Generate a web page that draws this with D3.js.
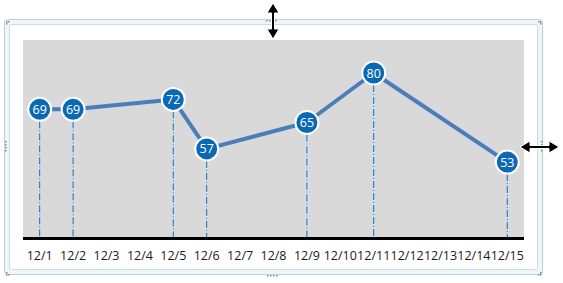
<!DOCTYPE html>
<html><head><meta charset="utf-8">
<script src="https://cdn.jsdelivr.net/npm/d3@7"></script>
<style>html,body{margin:0;padding:0;background:#fff;}svg{display:block;}</style>
</head><body>
<script>
const categories = ["12/1","12/2","12/3","12/4","12/5","12/6","12/7","12/8","12/9","12/10","12/11","12/12","12/13","12/14","12/15"];
const values = [69, 69, null, null, 72, 57, null, null, 65, null, 80, null, null, null, 53];
const yDomain = [30, 90];

const W = 563, H = 283;
const svg = d3.select("body").append("svg").attr("width", W).attr("height", H);

// frame
svg.append("rect").attr("x",4.5).attr("y",19.5).attr("width",538).attr("height",255).attr("rx",3)
  .attr("fill","#eef6f8").attr("stroke","#bccfd6");
svg.append("rect").attr("x",9.5).attr("y",24.5).attr("width",528).attr("height",245).attr("rx",2)
  .attr("fill","#fff").attr("stroke","#c8dce2");

const plot = {x0: 23, x1: 524, y0: 40, y1: 238};
const x = d3.scaleBand().domain(categories).range([plot.x0, plot.x1]);
const y = d3.scaleLinear().domain(yDomain).range([plot.y1, plot.y0]);

svg.append("rect").attr("x",plot.x0).attr("y",plot.y0).attr("width",plot.x1-plot.x0).attr("height",plot.y1-plot.y0)
  .attr("fill","#d9d9d9");

const pts = categories.map((c,i)=>({c, v: values[i]})).filter(d=>d.v!=null);
const cx = d => x(d.c) + x.bandwidth()/2;

// drop lines
const g = svg.append("g");
g.selectAll(".halo").data(pts).join("line")
  .attr("x1",d=>cx(d)).attr("x2",d=>cx(d)).attr("y1",d=>y(d.v)).attr("y2",plot.y1)
  .attr("stroke","#cfdfec").attr("stroke-width",3);
g.selectAll(".drop").data(pts).join("line")
  .attr("x1",d=>cx(d)).attr("x2",d=>cx(d)).attr("y1",d=>y(d.v)).attr("y2",plot.y1)
  .attr("stroke","#2a66a0").attr("stroke-width",1).attr("stroke-dasharray","7,2,1,2");

// axis
const xAxis = d3.axisBottom(x).tickSize(0).tickPadding(13);
const ax = svg.append("g").attr("transform",`translate(0,${plot.y1})`).call(xAxis);
ax.select(".domain").remove();
ax.selectAll("text").attr("font-family","'Open Sans', sans-serif").attr("font-size","12.5px").attr("fill","#1a1a1a");
svg.append("line").attr("x1",plot.x0).attr("x2",plot.x1).attr("y1",plot.y1+0.5).attr("y2",plot.y1+0.5)
  .attr("stroke","#000").attr("stroke-width",3);

// line
svg.append("path").datum(pts)
  .attr("d", d3.line().x(cx).y(d=>y(d.v)))
  .attr("fill","none").attr("stroke","#4a7ebb").attr("stroke-width",4).attr("stroke-linejoin","round");

// markers
const m = svg.append("g").selectAll("g").data(pts).join("g")
  .attr("transform",d=>`translate(${cx(d)},${y(d.v)})`);
m.append("circle").attr("r",11.5).attr("fill","#0a69b5").attr("stroke","#fff").attr("stroke-width",2);
m.append("text").text(d=>d.v).attr("text-anchor","middle").attr("dy","0.36em")
  .attr("font-family","'Open Sans', sans-serif").attr("font-size","12.5px").attr("fill","#fff");

// handles (dots)
function dots(list){ list.forEach(([px,py])=>svg.append("rect").attr("x",px).attr("y",py).attr("width",1.5).attr("height",1.5).attr("fill","#7d8c92")); }
dots([[6,21],[8,21],[6,23]]);
dots([[538,21],[540,21],[540,23]]);
dots([[6,272],[6,274],[8,274]]);
dots([[538,274],[540,274],[540,272]]);
dots([[267,275],[270,275],[273,275],[276,275]]);
dots([[5,141],[5,144],[5,147],[5,150]]);
dots([[266,20],[269,20],[272,20],[275,20]]);
dots([[541,141],[541,144],[541,147],[541,150]]);

// resize arrows
function arrowV(cxp, ya, yb){
  const p = `M${cxp},${ya} L${cxp-6},${ya+10} L${cxp-1.5},${ya+10} L${cxp-1.5},${yb-10} L${cxp-6},${yb-10} L${cxp},${yb} L${cxp+6},${yb-10} L${cxp+1.5},${yb-10} L${cxp+1.5},${ya+10} L${cxp+6},${ya+10} Z`;
  svg.append("path").attr("d",p).attr("fill","#000").attr("stroke","#fff").attr("stroke-width",1);
}
function arrowH(cyp, xa, xb){
  const p = `M${xa},${cyp} L${xa+10},${cyp-6} L${xa+10},${cyp-1.5} L${xb-10},${cyp-1.5} L${xb-10},${cyp-6} L${xb},${cyp} L${xb-10},${cyp+6} L${xb-10},${cyp+1.5} L${xa+10},${cyp+1.5} L${xa+10},${cyp+6} Z`;
  svg.append("path").attr("d",p).attr("fill","#000").attr("stroke","#fff").attr("stroke-width",1);
}
arrowV(273, 3, 39);
arrowH(147, 520, 559);
</script>
</body></html>
